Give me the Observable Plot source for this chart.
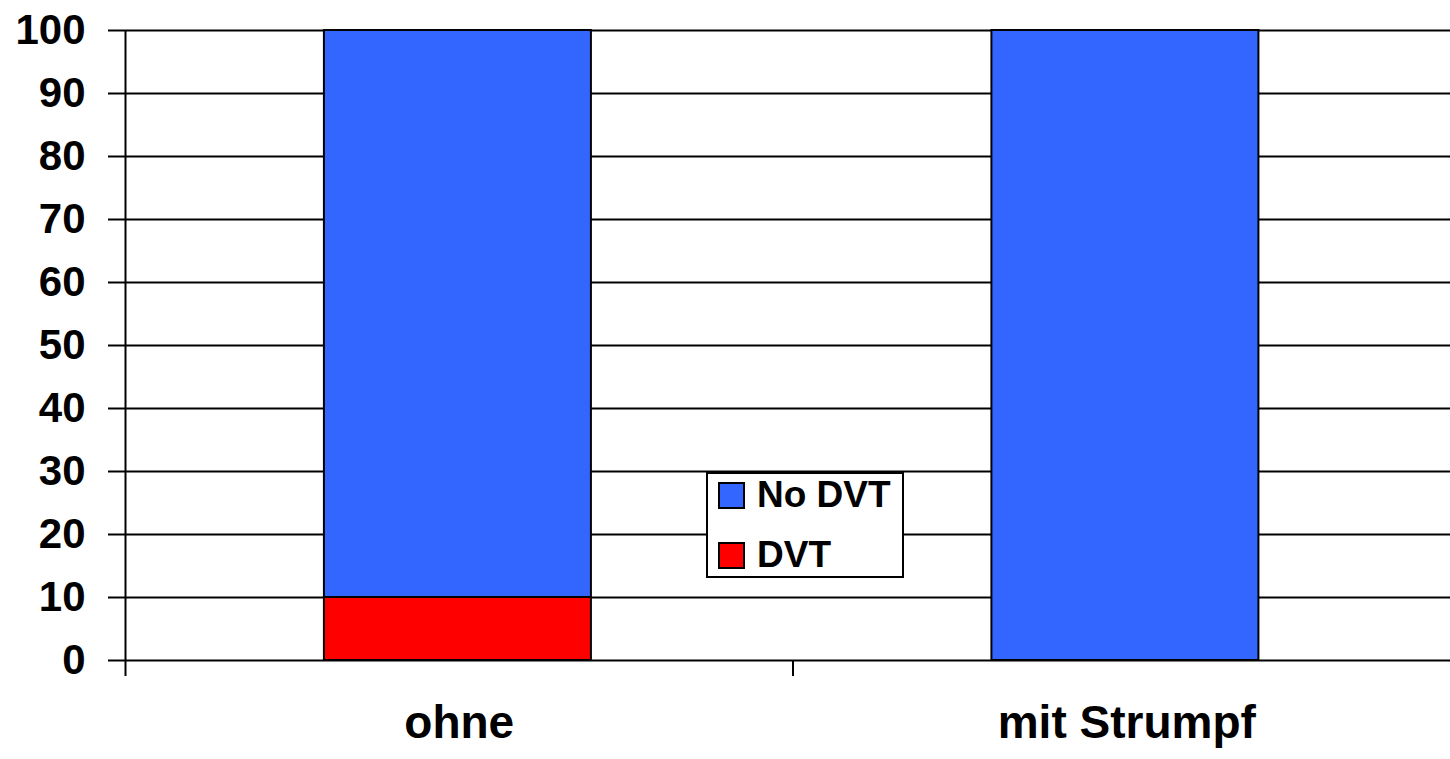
<!DOCTYPE html>
<html><head><meta charset="utf-8">
<script src="https://cdn.jsdelivr.net/npm/d3@7"></script>
<script src="https://cdn.jsdelivr.net/npm/@observablehq/plot@0.6"></script>
<style>
html,body{margin:0;padding:0;background:#fff;overflow:hidden;}
#wrap{position:relative;width:1450px;height:759px;overflow:hidden;}
.legend{position:absolute;left:706px;top:472px;width:194px;height:102px;border:2px solid #000;background:#fff;
  font-family:"Liberation Sans",Arial,sans-serif;font-weight:bold;font-size:37px;color:#000;box-sizing:content-box;}
.legend .item{position:absolute;left:10px;height:30px;display:flex;align-items:center;}
.legend .sw{width:23px;height:23px;border:2px solid #000;display:inline-block;margin-right:12px;}
</style></head><body><div id="wrap"></div>
<script>
const categories = ["ohne", "mit Strumpf"];
const series = ["DVT", "No DVT"];
const dvtValues = [10, 0];
const noDvtValues = [90, 100];
const yTicks = [0, 10, 20, 30, 40, 50, 60, 70, 80, 90, 100];
const seriesColors = ["#FF0000", "#3366FF"];
const legendOrder = ["No DVT", "DVT"];

const rows = [];
categories.forEach((c, i) => {
  const a = dvtValues[i], b = noDvtValues[i];
  if (a > 0) rows.push({i, series: "DVT", y1: 0, y2: a});
  if (b > 0) rows.push({i, series: "No DVT", y1: a, y2: a + b});
});

const chart = Plot.plot({
  width: 1450, height: 759,
  marginLeft: 125, marginRight: -10, marginTop: 30, marginBottom: 99,
  style: {fontFamily: "'Liberation Sans', Arial, sans-serif", fontWeight: "bold", fontSize: "42px", color: "#000", background: "#fff"},
  x: {domain: [0, categories.length], axis: null},
  y: {domain: [0, 100], axis: null},
  color: {domain: series, range: seriesColors},
  marks: [
    Plot.ruleY(yTicks, {stroke: "#000", strokeWidth: 2}),
    Plot.axisY({ticks: yTicks, tickSize: 17, tickPadding: 23, stroke: "#000", strokeWidth: 2, strokeOpacity: 1, fontSize: 42, fontWeight: "bold"}),
    Plot.rect(rows, {x1: d => d.i + 0.298, x2: d => d.i + 0.698, y1: "y1", y2: "y2", fill: "series", stroke: "#000", strokeWidth: 2}),
    Plot.ruleX([0], {y1: 0, y2: 100, stroke: "#000", strokeWidth: 2}),
    Plot.axisX({ticks: d3.range(categories.length), tickSize: 16, tickFormat: () => "", stroke: "#000", strokeWidth: 2, strokeOpacity: 1}),
    Plot.axisX({ticks: categories.map((d, i) => i + 0.5), tickSize: 0, tickPadding: 45, tickFormat: v => categories[Math.floor(v)], fontSize: 46, fontWeight: "bold"})
  ]
});
const wrap = document.getElementById("wrap");
wrap.appendChild(chart);

const color = chart.scale("color");
const legend = document.createElement("div");
legend.className = "legend";
legendOrder.forEach((name, k) => {
  const item = document.createElement("div");
  item.className = "item";
  item.style.top = (6 + k * 60) + "px";
  const sw = document.createElement("span");
  sw.className = "sw";
  sw.style.background = color.apply(name);
  const label = document.createElement("span");
  label.textContent = name;
  item.appendChild(sw); item.appendChild(label);
  legend.appendChild(item);
});
wrap.appendChild(legend);
</script></body></html>
